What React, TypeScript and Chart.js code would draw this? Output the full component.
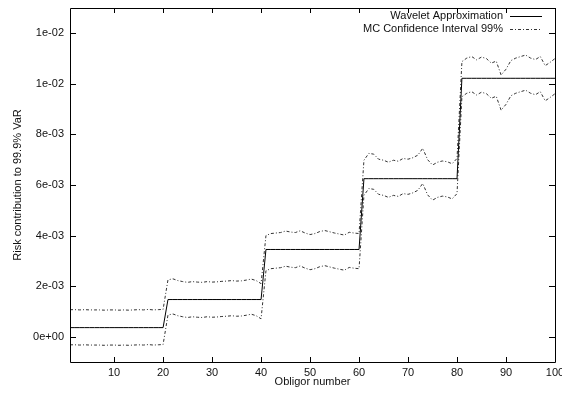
import React, { useEffect, useRef } from 'react';
import { Chart, registerables } from 'chart.js';

Chart.register(...registerables);

const obligors: number[] = Array.from({ length: 100 }, (_, i) => i + 1);

const wavelet: number[] = [
  0.00036, 0.00036, 0.00036, 0.00036, 0.00036, 0.00036, 0.00036, 0.00036, 0.00036, 0.00036,
  0.00036, 0.00036, 0.00036, 0.00036, 0.00036, 0.00036, 0.00036, 0.00036, 0.00036, 0.00036,
  0.00147, 0.00147, 0.00147, 0.00147, 0.00147, 0.00147, 0.00147, 0.00147, 0.00147, 0.00147,
  0.00147, 0.00147, 0.00147, 0.00147, 0.00147, 0.00147, 0.00147, 0.00147, 0.00147, 0.00147,
  0.00345, 0.00345, 0.00345, 0.00345, 0.00345, 0.00345, 0.00345, 0.00345, 0.00345, 0.00345,
  0.00345, 0.00345, 0.00345, 0.00345, 0.00345, 0.00345, 0.00345, 0.00345, 0.00345, 0.00345,
  0.00625, 0.00625, 0.00625, 0.00625, 0.00625, 0.00625, 0.00625, 0.00625, 0.00625, 0.00625,
  0.00625, 0.00625, 0.00625, 0.00625, 0.00625, 0.00625, 0.00625, 0.00625, 0.00625, 0.00625,
  0.01022, 0.01022, 0.01022, 0.01022, 0.01022, 0.01022, 0.01022, 0.01022, 0.01022, 0.01022,
  0.01022, 0.01022, 0.01022, 0.01022, 0.01022, 0.01022, 0.01022, 0.01022, 0.01022, 0.01022,
];

const ciUpper: number[] = [
  0.00107, 0.00107, 0.00106, 0.00107, 0.00106, 0.00106, 0.00106, 0.00105, 0.00106, 0.00106,
  0.00105, 0.00106, 0.00105, 0.00106, 0.00107, 0.00106, 0.00108, 0.00106, 0.00107, 0.00108,
  0.00225, 0.00229, 0.00222, 0.00218, 0.00215, 0.00218, 0.00216, 0.00215, 0.00218, 0.00216,
  0.00217, 0.00219, 0.00220, 0.00222, 0.00220, 0.00221, 0.00224, 0.00228, 0.00222, 0.00210,
  0.00400, 0.00408, 0.00410, 0.00412, 0.00418, 0.00414, 0.00412, 0.00419, 0.00410, 0.00404,
  0.00408, 0.00416, 0.00420, 0.00415, 0.00410, 0.00406, 0.00402, 0.00413, 0.00410, 0.00408,
  0.00698, 0.00725, 0.00722, 0.00702, 0.00698, 0.00690, 0.00698, 0.00694, 0.00705, 0.00702,
  0.00708, 0.00718, 0.00745, 0.00700, 0.00679, 0.00690, 0.00695, 0.00692, 0.00684, 0.00705,
  0.01088, 0.01102, 0.01108, 0.01095, 0.01106, 0.01100, 0.01082, 0.01090, 0.01035, 0.01058,
  0.01092, 0.01102, 0.01108, 0.01114, 0.01102, 0.01096, 0.01108, 0.01072, 0.01085, 0.01100,
];

const ciLower: number[] = [
  -0.00032, -0.00032, -0.00033, -0.00032, -0.00033, -0.00033, -0.00033, -0.00034, -0.00033, -0.00033,
  -0.00034, -0.00033, -0.00034, -0.00033, -0.00032, -0.00033, -0.00031, -0.00033, -0.00032, -0.00031,
  0.00086, 0.00090, 0.00083, 0.00079, 0.00076, 0.00079, 0.00077, 0.00076, 0.00079, 0.00077,
  0.00078, 0.00080, 0.00081, 0.00083, 0.00081, 0.00082, 0.00085, 0.00089, 0.00083, 0.00071,
  0.00261, 0.00269, 0.00271, 0.00273, 0.00279, 0.00275, 0.00273, 0.00280, 0.00271, 0.00265,
  0.00269, 0.00277, 0.00281, 0.00276, 0.00271, 0.00267, 0.00263, 0.00274, 0.00271, 0.00269,
  0.00559, 0.00586, 0.00583, 0.00563, 0.00559, 0.00551, 0.00559, 0.00555, 0.00566, 0.00563,
  0.00569, 0.00579, 0.00606, 0.00561, 0.00540, 0.00551, 0.00556, 0.00553, 0.00545, 0.00566,
  0.00949, 0.00963, 0.00969, 0.00956, 0.00967, 0.00961, 0.00943, 0.00951, 0.00896, 0.00919,
  0.00953, 0.00963, 0.00969, 0.00975, 0.00963, 0.00957, 0.00969, 0.00933, 0.00946, 0.00961,
];

const xTicks: number[] = [10, 20, 30, 40, 50, 60, 70, 80, 90, 100];
const xTickLabels: string[] = ['10', '20', '30', '40', '50', '60', '70', '80', '90', '100'];
const yTicks: number[] = [0, 0.002, 0.004, 0.006, 0.008, 0.01, 0.012];
const yTickLabels: string[] = ['0e+00', '2e-03', '4e-03', '6e-03', '8e-03', '1e-02', '1e-02'];
const legendLabels: string[] = ['Wavelet Approximation', 'MC Confidence Interval 99%'];
const xTitle = 'Obligor number';
const yTitle = 'Risk contribution to 99.9% VaR';

const FONT = "'Liberation Sans', Arial, Helvetica, sans-serif";
const CI_DASH = [3, 2, 1, 2];
const CI_COLOR = '#333';

const framePlugin = {
  id: 'gnuplotFrame',
  afterDraw(chart: any) {
    const { ctx, chartArea } = chart;
    const { left, right, top, bottom } = chartArea;
    const xs = chart.scales.x;
    const ys = chart.scales.y;
    ctx.save();
    ctx.strokeStyle = '#000';
    ctx.lineWidth = 1;
    ctx.setLineDash([]);
    ctx.beginPath();
    ctx.rect(Math.round(left) + 0.5, Math.round(top) + 0.5, Math.round(right - left), Math.round(bottom - top));
    ctx.stroke();
    ctx.beginPath();
    for (const v of yTicks) {
      const py = Math.round(ys.getPixelForValue(v)) + 0.5;
      ctx.moveTo(left, py);
      ctx.lineTo(left + 6, py);
      ctx.moveTo(right, py);
      ctx.lineTo(right - 6, py);
    }
    for (const v of xTicks) {
      const px = Math.round(xs.getPixelForValue(v)) + 0.5;
      ctx.moveTo(px, bottom);
      ctx.lineTo(px, bottom - 5);
      ctx.moveTo(px, top);
      ctx.lineTo(px, top + 5);
    }
    ctx.stroke();

    // legend (gnuplot style: text right-aligned, sample on the right)
    ctx.font = `11px ${FONT}`;
    ctx.fillStyle = '#111';
    ctx.textAlign = 'right';
    ctx.textBaseline = 'middle';
    const textRight = right - 52;
    const sx0 = right - 45;
    const sx1 = right - 13;
    const rows = [top + 7.5, top + 21];
    legendLabels.forEach((label, i) => {
      const y = rows[i];
      ctx.fillText(label, textRight, y);
      ctx.beginPath();
      ctx.setLineDash(i === 0 ? [] : CI_DASH);
      ctx.strokeStyle = i === 0 ? '#000' : CI_COLOR;
      ctx.moveTo(sx0, Math.round(y) + 0.5);
      ctx.lineTo(sx1, Math.round(y) + 0.5);
      ctx.stroke();
    });
    ctx.restore();
  },
};

export default function App() {
  const canvasRef = useRef<HTMLCanvasElement | null>(null);

  useEffect(() => {
    if (!canvasRef.current) return;
    const mk = (vals: number[]) => obligors.map((x, i) => ({ x, y: vals[i] }));
    const chart = new Chart(canvasRef.current, {
      type: 'line',
      data: {
        datasets: [
          {
            label: legendLabels[0],
            data: mk(wavelet),
            borderColor: '#000',
            borderWidth: 1,
            pointRadius: 0,
            tension: 0,
          },
          {
            label: legendLabels[1],
            data: mk(ciUpper),
            borderColor: CI_COLOR,
            borderWidth: 1,
            borderDash: CI_DASH,
            pointRadius: 0,
            tension: 0,
          },
          {
            label: legendLabels[1] + ' (lower)',
            data: mk(ciLower),
            borderColor: CI_COLOR,
            borderWidth: 1,
            borderDash: CI_DASH,
            pointRadius: 0,
            tension: 0,
          },
        ],
      },
      options: {
        animation: false,
        responsive: false,
        devicePixelRatio: 1,
        layout: { padding: { top: 8, right: 7, left: 0, bottom: 0 } },
        plugins: {
          legend: { display: false },
          tooltip: { enabled: false },
        },
        scales: {
          x: {
            type: 'linear',
            min: 1,
            max: 100,
            grid: { display: false, drawTicks: false },
            border: { display: false },
            afterBuildTicks: (scale: any) => {
              scale.ticks = xTicks.map((v) => ({ value: v }));
            },
            afterFit: (scale: any) => {
              scale.height = 37;
              scale.paddingLeft = 0;
              scale.paddingRight = 0;
            },
            ticks: {
              autoSkip: false,
              maxRotation: 0,
              padding: 4,
              color: '#111',
              font: { family: FONT, size: 11 },
              callback: (_v: any, i: number) => xTickLabels[i],
            },
            title: {
              display: true,
              text: xTitle,
              color: '#111',
              font: { family: FONT, size: 11 },
              padding: { top: 0, bottom: 10.5 },
            },
          },
          y: {
            type: 'linear',
            min: -0.001,
            max: 0.013,
            grid: { display: false, drawTicks: false },
            border: { display: false },
            afterBuildTicks: (scale: any) => {
              scale.ticks = yTicks.map((v) => ({ value: v }));
            },
            afterFit: (scale: any) => {
              scale.width = 70;
              scale.paddingTop = 0;
              scale.paddingBottom = 0;
            },
            ticks: {
              autoSkip: false,
              padding: 6,
              color: '#111',
              font: { family: FONT, size: 11 },
              callback: (_v: any, i: number) => yTickLabels[i],
            },
            title: {
              display: true,
              text: yTitle,
              color: '#111',
              font: { family: FONT, size: 11 },
              padding: { top: 11.5, bottom: 0 },
            },
          },
        },
      },
      plugins: [framePlugin],
    });
    return () => chart.destroy();
  }, []);

  return (
    <div style={{ position: 'fixed', left: 0, top: 0, width: 562, height: 399, background: '#fff' }}>
      <canvas ref={canvasRef} width={562} height={399} style={{ display: 'block' }} />
    </div>
  );
}
